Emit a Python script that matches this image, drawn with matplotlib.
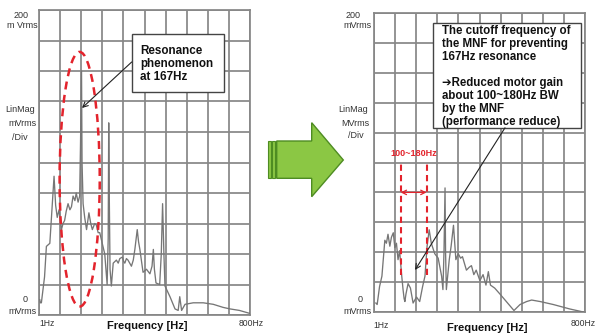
import numpy as np
import matplotlib
matplotlib.use("Agg")
import matplotlib.pyplot as plt
from matplotlib.patches import Ellipse, Rectangle, Polygon

# ---------------- data ----------------
freq_before = [4, 6, 10, 22, 29, 42, 58, 64, 70, 77, 86, 92, 98, 104, 111, 118, 124,
               130, 137, 142, 149, 155, 158, 162, 164, 168, 174, 181, 186, 190, 197,
               203, 212, 218, 225, 231, 250, 259, 263, 265, 267, 270, 275, 282, 288,
               294, 301, 307, 317, 322, 326, 332, 338, 351, 358, 364, 373, 378, 383,
               395, 408, 421, 429, 434, 438, 444, 458, 464, 469, 474, 478, 497, 516,
               528, 534, 541, 554, 585, 604, 623, 661, 698, 724, 760, 800]
mag_before = [10, 8, 8, 25, 45, 47, 91, 72, 64, 69, 56, 60, 62, 68, 73, 69, 71,
              78, 75, 80, 74, 78, 110, 160, 100, 73, 64, 56, 62, 67, 60,
              56, 60, 59, 54, 54, 40, 20, 50, 126, 80, 30, 19, 34, 35,
              36, 34, 37, 38, 35, 34, 37, 36, 32, 36, 43, 56, 48, 43,
              28, 30, 27, 32, 43, 30, 21, 20, 40, 73, 40, 19, 12, 4,
              3, 12, 3, 7, 8, 8, 8, 7, 5, 4, 3, 1]

freq_after = [8, 13, 22, 31, 42, 48, 54, 61, 67, 74, 80, 86, 92, 98, 105, 111, 115,
              118, 122, 130, 139, 149, 162, 174, 185, 194, 202, 210, 218, 231, 244,
              257, 262, 266, 270, 272, 275, 286, 293, 302, 311, 320, 329, 336, 351,
              362, 370, 379, 388, 402, 414, 425, 434, 442, 458, 478, 531, 554, 579,
              598, 630, 680, 743, 794]
mag_after = [6, 5, 17, 24, 48, 46, 52, 44, 50, 53, 43, 46, 35, 41, 26, 15, 9,
             7, 12, 19, 16, 6, 10, 7, 17, 24, 44, 55, 46, 39, 36,
             24, 15, 40, 83, 40, 15, 35, 44, 58, 35, 39, 36, 37, 28,
             30, 31, 25, 28, 21, 25, 18, 27, 18, 16, 12, 1, 5, 7,
             8, 7, 5, 2, 0]

freq_range = (1, 800)          # Hz
mag_range = (0, 200)           # mVrms
band_label = "100~180Hz"
band_edges_hz = (102, 200)     # where the dashed lines are drawn

# ---------------- figure ----------------
W, H = 597, 333
fig = plt.figure(figsize=(W / 100, H / 100), dpi=100)
fig.patch.set_facecolor("white")

def rect(x0, y0, x1, y1):
    return [x0 / W, 1 - y1 / H, (x1 - x0) / W, (y1 - y0) / H]

GRID = "#878787"
TRACE = "#767676"
RED = "#e3232c"
LBL = "#333333"
NARROW = ["Liberation Sans Narrow", "Liberation Sans", "DejaVu Sans"]
SANS = ["Liberation Sans", "DejaVu Sans"]

def style_axes(ax):
    ax.set_xlim(*freq_range)
    ax.set_ylim(*mag_range)
    ax.set_xticks(np.linspace(freq_range[0], freq_range[1], 11))
    ax.set_yticks(np.linspace(mag_range[0], mag_range[1], 11))
    ax.tick_params(length=0, labelbottom=False, labelleft=False)
    ax.grid(True, color=GRID, lw=1.25)
    ax.set_axisbelow(True)
    for s in ax.spines.values():
        s.set_color(GRID)
        s.set_linewidth(1.25)

ax1 = fig.add_axes(rect(39, 10, 250, 315))
style_axes(ax1)
ax1.plot(freq_before, mag_before, color=TRACE, lw=0.95, zorder=3)
ax1.add_patch(Ellipse((155, 89), 152, 167, fill=False, ec=RED, lw=1.8,
                      ls=(0, (3.2, 2.2)), clip_on=False, zorder=4))

ax2 = fig.add_axes(rect(374, 13, 585, 312))
style_axes(ax2)
ax2.plot(freq_after, mag_after, color=TRACE, lw=0.95, zorder=3)
for fx in band_edges_hz:
    ax2.plot([fx, fx], [25, 100.5], color=RED, lw=1.5, ls=(0, (3, 2)), zorder=4)
ax2.annotate("", xy=(band_edges_hz[0], 80), xytext=(band_edges_hz[1], 80),
             arrowprops=dict(arrowstyle="<->", color=RED, lw=0.9,
                             shrinkA=0, shrinkB=0, mutation_scale=8))
ax2.text(sum(band_edges_hz) / 2, 106, band_label, color=RED, fontsize=6.5,
         fontweight="bold", ha="center", va="center", family=SANS)

# ---------------- overlay in pixel coordinates ----------------
ov = fig.add_axes([0, 0, 1, 1], zorder=10)
ov.set_xlim(0, W)
ov.set_ylim(H, 0)
ov.axis("off")
ov.patch.set_alpha(0)

def lab(x, y, s, size=6.5, ha="center", **kw):
    ov.text(x, y, s, fontsize=size, ha=ha, va="center", color=LBL, family=NARROW, **kw)

# left labels
lab(21, 16, "200"); lab(22, 26, "m Vrms")
lab(20, 110, "LinMag"); lab(22, 124, "mVrms"); lab(20, 137, "/Div")
lab(25, 300, "0"); lab(22, 312, "mVrms")
lab(47, 324, "1Hz", size=6.2); lab(251, 323, "800Hz", size=6.2)
ov.text(147, 326, "Frequency [Hz]", fontsize=8, fontweight="bold", ha="center",
        va="center", color="#111111", family=SANS)

# right labels
lab(353, 15, "200"); lab(357, 26, "mVrms")
lab(353, 110, "LinMag"); lab(355, 123, "MVrms"); lab(356, 135, "/Div")
lab(360, 300, "0"); lab(357, 311, "mVrms")
lab(381, 326, "1Hz", size=6.2); lab(596, 323, "800Hz", size=6.2, ha="right")
ov.text(487, 328, "Frequency [Hz]", fontsize=8, fontweight="bold", ha="center",
        va="center", color="#111111", family=SANS)

# left annotation box
ov.add_patch(Rectangle((131.7, 34.3), 92.3, 57.4, fc="white", ec="#444444", lw=1.0))
ov.text(140, 64, "Resonance\nphenomenon\nat 167Hz", fontsize=8.4, fontweight="bold",
        ha="left", va="center", linespacing=1.12, color="#111111", family=SANS)
ov.annotate("", xy=(82, 108), xytext=(131.7, 62),
            arrowprops=dict(arrowstyle="->", color="#222222", lw=0.8,
                            shrinkA=0, shrinkB=0, mutation_scale=9))

# right annotation box
ov.add_patch(Rectangle((433.3, 23.3), 147.4, 104.5, fc="white", ec="#444444", lw=1.0))
ov.text(441.5, 76.5, "The cutoff frequency of\nthe MNF for preventing\n167Hz resonance\n\n"
        "\u2794Reduced motor gain\nabout 100~180Hz BW\nby the MNF\n(performance reduce)",
        fontsize=8.3, fontweight="bold", ha="left", va="center", linespacing=1.12,
        color="#111111", family=SANS)
ov.annotate("", xy=(415, 270), xytext=(505, 127.8),
            arrowprops=dict(arrowstyle="->", color="#222222", lw=0.8,
                            shrinkA=0, shrinkB=0, mutation_scale=9))

# green arrow
GF, GE = "#8bc744", "#4e8c22"
ov.add_patch(Polygon([(276.7, 141), (311.7, 141), (311.7, 122.7), (343.3, 160),
                      (311.7, 196.7), (311.7, 178.3), (276.7, 178.3)],
                     closed=True, fc=GF, ec=GE, lw=1.0))
for x0, x1 in [(268.3, 270.7), (272.3, 275)]:
    ov.add_patch(Rectangle((x0, 141), x1 - x0, 37.3, fc=GF, ec=GE, lw=0.8))

fig.savefig("out.png", dpi=100)
